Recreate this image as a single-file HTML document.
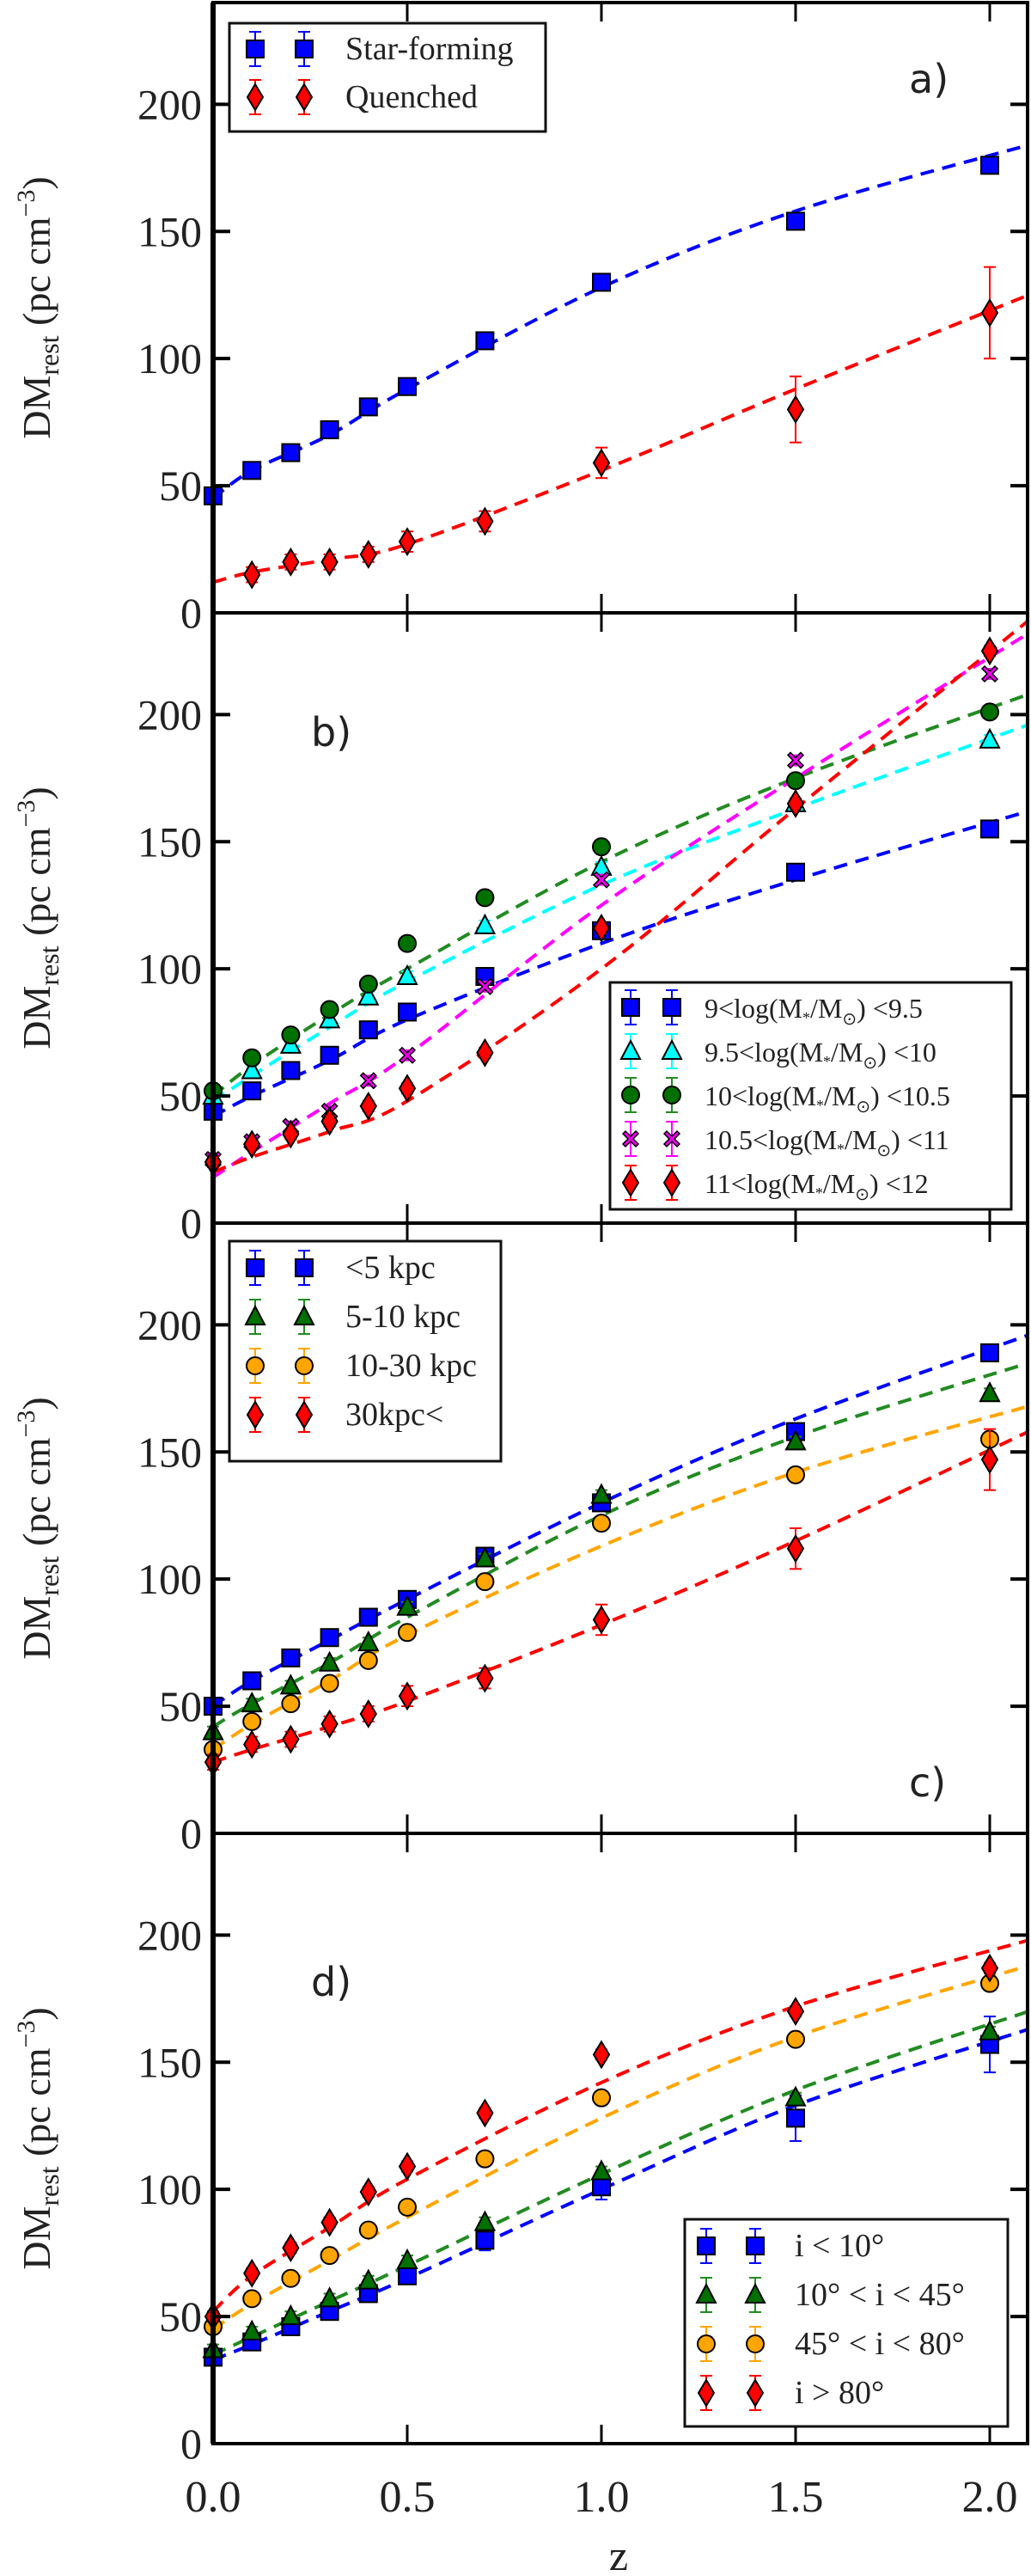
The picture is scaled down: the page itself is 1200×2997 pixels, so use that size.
<!DOCTYPE html>
<html><head><meta charset="utf-8"><style>
html,body{margin:0;padding:0;background:#fff}
svg{display:block}
text{font-family:"Liberation Serif",serif;fill:#222}
</style></head><body>
<svg id="chart" width="1200" height="2997" viewBox="0 0 1200 2997" xmlns="http://www.w3.org/2000/svg"></svg>
<script>
const zVals=[0,0.1,0.2,0.3,0.4,0.5,0.7,1.0,1.5,2.0];
const fitZ=[0,0.1,0.3,0.5,1.0,1.5,2.1];
const yTicks=[0,50,100,150,200];
const yTickLabels=["0","50","100","150","200"];
const xTicks=[0,0.5,1.0,1.5,2.0];
const xTickLabels=["0.0","0.5","1.0","1.5","2.0"];
// panel a
const aSF=[46,56,63,72,81,89,107,130,154,176];
const aQ=[null,15,20,20,23,28,36,59,80,118];
const aQerr=[0,3,3,3,3,4,4,6,13,18];
const aSFfit=[45,56,70,88,128,158,184];
const aQfit=[12,16,21,27,56,88,125];
// panel b
const bM1=[44,52,60,66,76,83,97,115,138,155];
const bM2=[50,60,70,80,89,97,117,140,165,190];
const bM3=[52,65,74,84,94,110,128,148,174,201];
const bM4=[25,32,38,44,56,66,93,135,182,216];
const bM5=[24,31,35,40,46,53,67,116,165,225];
const bM1fit=[42,50,64,80,110,135,162];
const bM2fit=[48,58,77,95,133,163,196];
const bM3fit=[50,62,82,100,142,175,208];
const bM4fit=[18,28,47,66,125,175,232];
const bM5fit=[20,26,36,48,100,163,237];
// panel c
const cR1=[50,60,69,77,85,92,109,130,158,189];
const cR2=[40,51,58,67,75,89,108,133,154,173];
const cR3=[33,44,51,59,68,79,99,122,141,155];
const cR4=[28,35,37,43,47,54,61,84,112,147];
const cR4err=[3,3,3,3,3,4,4,6,8,12];
const cR1fit=[50,60,76,92,130,163,196];
const cR2fit=[42,51,67,85,125,156,185];
const cR3fit=[33,43,60,78,113,142,168];
const cR4fit=[28,33,42,52,82,115,158];
// panel d
const dI1=[34,40,46,52,59,66,80,101,128,157];
const dI2=[37,44,50,57,64,72,87,107,136,162];
const dI3=[46,57,65,74,84,93,112,136,159,181];
const dI4=[50,67,77,87,99,109,130,153,170,187];
const dI1err=[2,2,2,2,2,3,4,5,9,11];
const dI1fit=[33,39,52,65,100,133,163];
const dI2fit=[35,42,56,70,106,139,170];
const dI3fit=[45,55,72,89,128,160,188];
const dI4fit=[52,66,85,104,142,172,198];

const svg=document.getElementById('chart');
const NS="http://www.w3.org/2000/svg";
const X0=248, XS=452, X1=1196, PH=710, YS=PH/240;
function xp(z){return X0+z*XS;}
function el(tag,attrs,parent){const e=document.createElementNS(NS,tag);for(const k in attrs)e.setAttribute(k,attrs[k]);(parent||svg).appendChild(e);return e;}
function smoothPath(P){
  let d=`M${P[0][0]},${P[0][1]}`;
  for(let i=0;i<P.length-1;i++){
    const p0=P[Math.max(0,i-1)],p1=P[i],p2=P[i+1],p3=P[Math.min(P.length-1,i+2)];
    const c1=[p1[0]+(p2[0]-p0[0])/6,p1[1]+(p2[1]-p0[1])/6];
    const c2=[p2[0]-(p3[0]-p1[0])/6,p2[1]-(p3[1]-p1[1])/6];
    d+=` C${c1[0]},${c1[1]} ${c2[0]},${c2[1]} ${p2[0]},${p2[1]}`;
  }
  return d;
}
function marker(g,type,cx,cy,fill,s){
  s=s||1;let m;
  if(type==='sq')m=el('rect',{x:cx-10*s,y:cy-10*s,width:20*s,height:20*s,fill:fill,stroke:'#000','stroke-width':2},g);
  else if(type==='di')m=el('polygon',{points:`${cx},${cy-15*s} ${cx+9*s},${cy} ${cx},${cy+15*s} ${cx-9*s},${cy}`,fill:fill,stroke:'#000','stroke-width':2},g);
  else if(type==='ci')m=el('circle',{cx:cx,cy:cy,r:10*s,fill:fill,stroke:'#000','stroke-width':2},g);
  else if(type==='tr')m=el('polygon',{points:`${cx},${cy-12*s} ${cx+11*s},${cy+9*s} ${cx-11*s},${cy+9*s}`,fill:fill,stroke:'#000','stroke-width':2},g);
  else if(type==='x'){m=el('path',{d:`M${cx-9*s},${cy-6*s} L${cx-6*s},${cy-9*s} L${cx},${cy-3*s} L${cx+6*s},${cy-9*s} L${cx+9*s},${cy-6*s} L${cx+3*s},${cy} L${cx+9*s},${cy+6*s} L${cx+6*s},${cy+9*s} L${cx},${cy+3*s} L${cx-6*s},${cy+9*s} L${cx-9*s},${cy+6*s} L${cx-3*s},${cy} Z`,fill:fill,stroke:'#000','stroke-width':1.5},g);}
  return m;
}
function errbar(g,cx,cy1,cy2,color){
  el('line',{x1:cx,y1:cy1,x2:cx,y2:cy2,stroke:color,'stroke-width':2},g);
  el('line',{x1:cx-7,y1:cy1,x2:cx+7,y2:cy1,stroke:color,'stroke-width':2},g);
  el('line',{x1:cx-7,y1:cy2,x2:cx+7,y2:cy2,stroke:color,'stroke-width':2},g);
}

function panel(k,label,lpos,series,legend){
  const y0=713+PH*k, top=y0-PH;
  const yp=v=>y0-v*YS;
  const g=el('g',{});
  
  
  series.forEach(s=>{
    const P=fitZ.map((z,i)=>[xp(z),yp(s.fit[i])]);
    const pl=el('path',{d:smoothPath(P),fill:'none',stroke:s.line,'stroke-width':4,'stroke-dasharray':'16,10'},g);
    
    
  });
  series.forEach(s=>{
    const sg=el('g',{},g);
    
    
    zVals.forEach((z,i)=>{
      const v=s.vals[i]; if(v==null)return;
      const e=s.err?s.err[i]:2;
      const cx=xp(z), cy=yp(v);
      errbar(sg,cx,yp(v+e),yp(v-e),s.line);
      const m=marker(sg,s.type,cx,cy,s.fill);
      
      
    });
  });
  const fr=el('rect',{x:X0,y:top,width:X1-X0,height:PH,fill:'none',stroke:'#000','stroke-width':4},g);
  
  
  el('line',{x1:X0,y1:top,x2:X0,y2:y0,stroke:'#000','stroke-width':6},g);
  yTicks.forEach((t,i)=>{
    const y=yp(t);
    el('line',{x1:X0,y1:y,x2:X0+20,y2:y,stroke:'#000','stroke-width':4},g);
    el('line',{x1:X1-20,y1:y,x2:X1,y2:y,stroke:'#000','stroke-width':4},g);
    const tl=el('text',{x:235,y:y+17,'text-anchor':'end','font-size':50},g);
    tl.textContent=yTickLabels[i];
    
    
  });
  xTicks.forEach(t=>{
    if(t===0)return;
    const x=xp(t);
    el('line',{x1:x,y1:y0,x2:x,y2:y0-22,stroke:'#000','stroke-width':3},g);
    el('line',{x1:x,y1:top,x2:x,y2:top+22,stroke:'#000','stroke-width':3},g);
  });
  const cy=(top+y0)/2;
  const yt=el('text',{transform:`translate(58,${cy}) rotate(-90)`,'text-anchor':'middle','font-size':46},g);
  yt.innerHTML='DM<tspan font-size="32" dy="10">rest</tspan><tspan dy="-10"> (pc cm</tspan><tspan font-size="30" dy="-18">−3</tspan><tspan dy="18">)</tspan>';
  
  
  const pl=el('text',{x:lpos[0],y:lpos[1],'font-size':46,style:'font-family:"DejaVu Sans","Liberation Sans",sans-serif'},g);
  pl.textContent=label+')';
  
  
  const lg=el('g',{},g);
  
  
  el('rect',{x:legend.x,y:legend.y,width:legend.w,height:legend.h,fill:'#fff',stroke:'#111','stroke-width':3},lg);
  series.forEach((s,i)=>{
    const ry=legend.r0+i*legend.dr;
    const eg=el('g',{},lg);
    
    
    legend.mx.forEach(mx=>{
      errbar(eg,mx,ry-20,ry+20,s.line);
      marker(eg,s.type,mx,ry,s.fill);
    });
    const t=el('text',{x:legend.tx,y:ry+12,'font-size':legend.fs},eg);
    t.innerHTML=s.label;
  });
}
const M='log(M<tspan font-size="18" dy="6">*</tspan><tspan dy="-6">/M</tspan><tspan font-size="20" dy="8">⊙</tspan><tspan dy="-8">)</tspan>';
panel(0,'a',[1058,108],[
  {key:'star-forming',vals:aSF,fit:aSFfit,type:'sq',fill:'#0000ff',line:'#0000ff',label:'Star-forming'},
  {key:'quenched',vals:aQ,err:aQerr,fit:aQfit,type:'di',fill:'#ff0000',line:'#ff0000',label:'Quenched'}
],{x:267,y:27,w:368,h:126,r0:57,dr:56,mx:[297,354],tx:402,fs:38});
panel(1,'b',[362,868],[
  {key:'m9-9.5',vals:bM1,fit:bM1fit,type:'sq',fill:'#0000ff',line:'#0000ff',label:'9&lt;'+M+' &lt;9.5'},
  {key:'m9.5-10',vals:bM2,fit:bM2fit,type:'tr',fill:'#00ffff',line:'#00ffff',label:'9.5&lt;'+M+' &lt;10'},
  {key:'m10-10.5',vals:bM3,fit:bM3fit,type:'ci',fill:'#007000',line:'#228b22',label:'10&lt;'+M+' &lt;10.5'},
  {key:'m10.5-11',vals:bM4,fit:bM4fit,type:'x',fill:'#ee00ee',line:'#ff00ff',label:'10.5&lt;'+M+' &lt;11'},
  {key:'m11-12',vals:bM5,fit:bM5fit,type:'di',fill:'#ff0000',line:'#ff0000',label:'11&lt;'+M+' &lt;12'}
],{x:710,y:1143,w:467,h:264,r0:1172,dr:51,mx:[734,782],tx:820,fs:32});
panel(2,'c',[1058,2090],[
  {key:'lt5kpc',vals:cR1,fit:cR1fit,type:'sq',fill:'#0000ff',line:'#0000ff',label:'&lt;5 kpc'},
  {key:'5-10kpc',vals:cR2,fit:cR2fit,type:'tr',fill:'#007000',line:'#228b22',label:'5-10 kpc'},
  {key:'10-30kpc',vals:cR3,fit:cR3fit,type:'ci',fill:'#ffa500',line:'#ffa500',label:'10-30 kpc'},
  {key:'gt30kpc',vals:cR4,err:cR4err,fit:cR4fit,type:'di',fill:'#ff0000',line:'#ff0000',label:'30kpc&lt;'}
],{x:267,y:1444,w:316,h:256,r0:1475,dr:57,mx:[297,354],tx:402,fs:38});
panel(3,'d',[362,2322],[
  {key:'i-lt-10',vals:dI1,err:dI1err,fit:dI1fit,type:'sq',fill:'#0000ff',line:'#0000ff',label:'i &lt; 10°'},
  {key:'i-10-45',vals:dI2,fit:dI2fit,type:'tr',fill:'#007000',line:'#228b22',label:'10° &lt; i &lt; 45°'},
  {key:'i-45-80',vals:dI3,fit:dI3fit,type:'ci',fill:'#ffa500',line:'#ffa500',label:'45° &lt; i &lt; 80°'},
  {key:'i-gt-80',vals:dI4,fit:dI4fit,type:'di',fill:'#ff0000',line:'#ff0000',label:'i &gt; 80°'}
],{x:797,y:2582,w:376,h:241,r0:2613,dr:57,mx:[822,879],tx:925,fs:38});
xTicks.forEach((t,i)=>{
  const tl=el('text',{x:xp(t),y:2922,'text-anchor':'middle','font-size':52});
  tl.textContent=xTickLabels[i];
  
  
});
const xt=el('text',{x:xp(1.0)+20,y:2990,'text-anchor':'middle','font-size':50});
xt.textContent='z';


</script>
</body></html>
